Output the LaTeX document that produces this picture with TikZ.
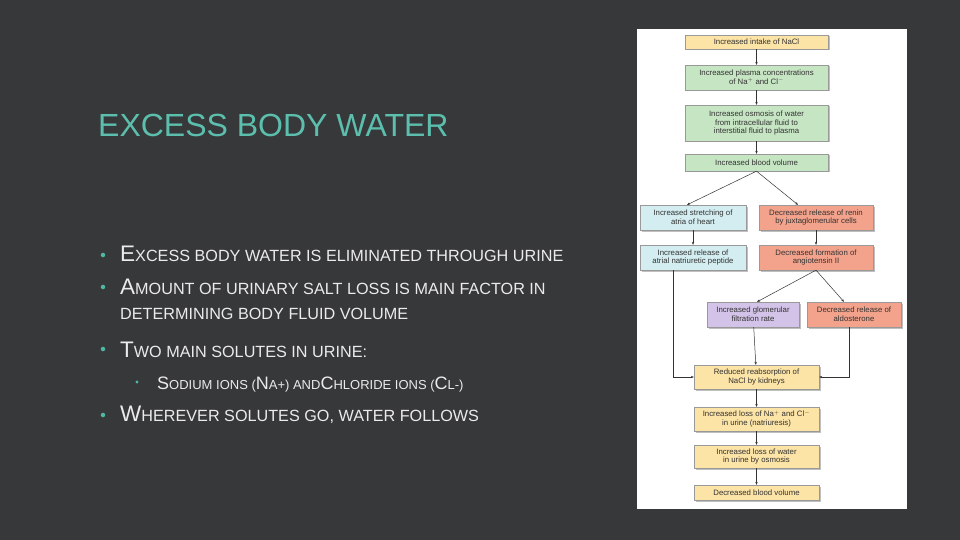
\documentclass[tikz,border=0pt]{standalone}
\usepackage{fontspec}
\setmainfont{Liberation Sans}
\usetikzlibrary{arrows.meta}
\definecolor{bg}{HTML}{37383A}
\definecolor{teal}{HTML}{5CBFAD}
\definecolor{bul}{HTML}{4FB8A4}
\definecolor{cy}{HTML}{FCE3A6}
\definecolor{cg}{HTML}{C6E5C3}
\definecolor{cb}{HTML}{D3EDF1}
\definecolor{cs}{HTML}{F3A28B}
\definecolor{cp}{HTML}{D3C3E8}
\newcommand{\fsc}[2]{{\fontsize{22.5}{22.5}\selectfont #1}{\fontsize{16.2}{16.2}\selectfont #2}}
\newcommand{\fscs}[2]{{\fontsize{18}{18}\selectfont #1}{\fontsize{13}{13}\selectfont #2}}
\begin{document}
\begin{tikzpicture}[x=1pt,y=-1pt,
  bx/.style={draw=black!40,line width=0.3pt,align=center,inner sep=0pt,font=\fontsize{7.8}{8.8}\selectfont,text=black!80},
  ar/.style={-{Stealth[length=3pt,width=2.4pt]},line width=0.5pt,black!80},
  txt/.style={text=white!92!black,anchor=base west,inner sep=0pt}]
\useasboundingbox (0,0) rectangle (960,540);
\fill[bg] (0,0) rectangle (960,540);
\node[anchor=base west,inner sep=0pt,text=teal,font=\fontsize{32}{32}\selectfont] (title) at (98,137) {EXCESS BODY WATER};
\foreach \yy/\xx in {255/103,287/103,349/103,415/103} \node[circle,fill=bul,inner sep=1.6pt] at (\xx,\yy) {};
\node[circle,fill=bul,inner sep=1.1pt] at (137,382) {};
\node[txt] (l1) at (120,261) {\fsc{E}{XCESS BODY WATER IS ELIMINATED THROUGH URINE}};
\node[txt] (l2) at (120,294) {\fsc{A}{MOUNT OF URINARY SALT LOSS IS MAIN FACTOR IN}};
\node[txt] (l3) at (120,319) {\fontsize{16.2}{16.2}\selectfont DETERMINING BODY FLUID VOLUME};
\node[txt] (l4) at (120,357) {\fsc{T}{WO MAIN SOLUTES IN URINE:}};
\node[txt] (l5) at (157,389) {\fscs{S}{ODIUM IONS (}\fscs{N}{A+) AND}\fscs{C}{HLORIDE IONS (}\fscs{C}{L-)}};
\node[txt] (l6) at (120,421) {\fsc{W}{HEREVER SOLUTES GO, WATER FOLLOWS}};
% panel
\fill[white] (637,29) rectangle (907,509);
\newcommand{\bxn}[7]{\fill[black!25] (#2+1.5,#3+1.5) rectangle (#4+1.5,#5+1.5);
 \node[bx,fill=#6,minimum width=#4-#2,minimum height=#5-#3] (#1) at ({(#2+#4)/2},{(#3+#5)/2}) {#7};}
\bxn{b1}{685}{35}{828}{49}{cy}{Increased intake of NaCl}
\bxn{b2}{685}{65}{828}{90}{cg}{Increased plasma concentrations\\of Na$^+$ and Cl$^-$}
\bxn{b3}{685}{105}{828}{141}{cg}{Increased osmosis of water\\from intracellular fluid to\\interstitial fluid to plasma}
\bxn{b4}{685}{154}{828}{171}{cg}{Increased blood volume}
\bxn{b5}{640}{205}{746}{230}{cb}{Increased stretching of\\atria of heart}
\bxn{b6}{759}{205}{873}{230}{cs}{Decreased release of renin\\by juxtaglomerular cells}
\bxn{b7}{640}{245}{746}{270}{cb}{Increased release of\\atrial natriuretic peptide}
\bxn{b8}{759}{245}{873}{270}{cs}{Decreased formation of\\angiotensin II}
\bxn{b9}{707}{302}{799}{327}{cp}{Increased glomerular\\filtration rate}
\bxn{b10}{807}{302}{901}{327}{cs}{Decreased release of\\aldosterone}
\bxn{b11}{694}{365}{819}{389}{cy}{Reduced reabsorption of\\NaCl by kidneys}
\bxn{b12}{694}{407}{819}{431}{cy}{Increased loss of Na$^+$ and Cl$^-$\\in urine (natriuresis)}
\bxn{b13}{694}{445}{819}{468}{cy}{Increased loss of water\\in urine by osmosis}
\bxn{b14}{694}{485}{819}{500}{cy}{Decreased blood volume}
\draw[ar] (b1) -- (b2);
\draw[ar] (b2) -- (b3);
\draw[ar] (b3) -- (b4);
\draw[ar] (b4.south) -- ([xshift=-6pt]b5.north);
\draw[ar] (b4.south) -- ([xshift=-18pt]b6.north);
\draw[ar] (b5) -- (b7);
\draw[ar] (b6) -- (b8);
\draw[ar] (b8.south) -- ([xshift=4pt]b9.north);
\draw[ar] (b8.south) -- ([xshift=-10pt]b10.north);
\draw[ar] (b9) -- (b11);
\draw[ar] (b7.south -| 673,0) |- (b11.west);
\draw[ar] (b10.south -| 849,0) |- (b11.east);
\draw[ar] (b11) -- (b12);
\draw[ar] (b12) -- (b13);
\draw[ar] (b13) -- (b14);
\end{tikzpicture}
\end{document}
